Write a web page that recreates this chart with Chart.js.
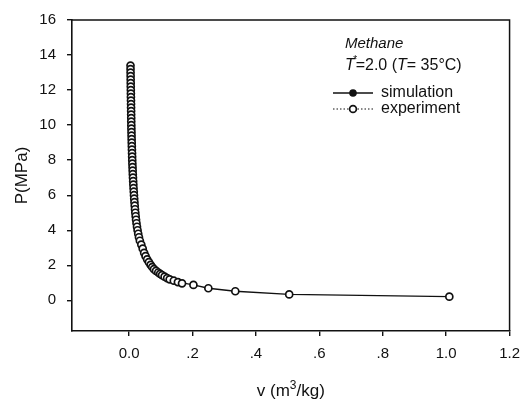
<!DOCTYPE html>
<html>
<head>
<meta charset="utf-8">
<script src="https://cdn.jsdelivr.net/npm/chart.js@4/dist/chart.umd.min.js"></script>
<style>
  html, body { margin: 0; padding: 0; background: #fff; }
  #wrap { width: 529px; height: 407px; position: relative; }
</style>
</head>
<body>
<div id="wrap"><canvas id="c" width="529" height="407"></canvas></div>
<script>
// Methane isotherm, T = 35 °C: pressure (MPa) against specific volume (m³/kg)
const expVolume = [
  0.0045, 0.0046, 0.0047, 0.0049, 0.0050, 0.0052, 0.0053, 0.0055, 0.0057, 0.0058,
  0.0060, 0.0062, 0.0063, 0.0065, 0.0066, 0.0068, 0.0069, 0.0071, 0.0073, 0.0076,
  0.0078, 0.0081, 0.0084, 0.0087, 0.0090, 0.0094, 0.0097, 0.0100, 0.0104, 0.0109,
  0.0113, 0.0118, 0.0123, 0.0129, 0.0135, 0.0141, 0.0148, 0.0155, 0.0162, 0.0170,
  0.0178, 0.0187, 0.0197, 0.0208, 0.0220, 0.0234, 0.0250, 0.0268, 0.0288, 0.0312,
  0.0340, 0.0385, 0.0430, 0.0475, 0.0520, 0.0570, 0.0625, 0.0680, 0.0730, 0.0785,
  0.0850, 0.0920, 0.0980, 0.1040, 0.1120, 0.1200, 0.1280, 0.1410, 0.1540, 0.1670,
  0.2030, 0.2500, 0.3350, 0.5050, 1.0100
];
const expPressure = [
  13.4, 13.2, 13.0, 12.8, 12.6, 12.4, 12.2, 12.0, 11.8, 11.6,
  11.4, 11.2, 11.0, 10.8, 10.6, 10.4, 10.2, 10.0, 9.8, 9.6,
  9.4, 9.2, 9.0, 8.8, 8.6, 8.4, 8.2, 8.0, 7.8, 7.6,
  7.4, 7.2, 7.0, 6.8, 6.6, 6.4, 6.2, 6.0, 5.8, 5.6,
  5.4, 5.2, 5.0, 4.8, 4.6, 4.4, 4.2, 4.0, 3.8, 3.6,
  3.4, 3.18, 2.95, 2.71, 2.52, 2.34, 2.18, 2.02, 1.90, 1.78,
  1.68, 1.59, 1.51, 1.44, 1.35, 1.27, 1.20, 1.12, 1.04, 0.97,
  0.88, 0.69, 0.52, 0.34, 0.21
];
const simVolume = [
  0.0045, 0.0055, 0.0071, 0.0100, 0.0141, 0.0197, 0.0268, 0.0340, 0.0430, 0.0520,
  0.0625, 0.0730, 0.0850, 0.0980, 0.1120, 0.1280, 0.1540, 0.2030, 0.2500, 0.3350,
  0.5050, 1.0100
];
const simPressure = [
  13.4, 12.0, 10.0, 8.0, 6.4, 5.0, 4.0, 3.4, 2.95, 2.52,
  2.18, 1.90, 1.68, 1.51, 1.35, 1.20, 1.04, 0.88, 0.69, 0.52,
  0.34, 0.21
];
const xTickValues = [0, 0.2, 0.4, 0.6, 0.8, 1.0, 1.2];
const xTickLabels = ['0.0', '.2', '.4', '.6', '.8', '1.0', '1.2'];
const yTickValues = [0, 2, 4, 6, 8, 10, 12, 14, 16];
const yTickLabels = ['0', '2', '4', '6', '8', '10', '12', '14', '16'];

const FONT = '"Liberation Sans", Arial, Helvetica, sans-serif';
const INK = '#111';

const toPoints = (xs, ys) => xs.map((x, i) => ({ x: x, y: ys[i] }));

// frame on the top/right sides, the x-axis title with its superscript,
// and the in-plot caption and key
const framePlugin = {
  id: 'frameAndKey',
  afterDatasetsDraw(chart) {
    const { ctx, chartArea: a } = chart;
    ctx.save();
    ctx.strokeStyle = INK;
    ctx.lineWidth = 1.5;
    ctx.beginPath();
    ctx.moveTo(a.left, a.top);
    ctx.lineTo(a.right, a.top);
    ctx.lineTo(a.right, a.bottom);
    ctx.stroke();

    ctx.fillStyle = INK;
    ctx.textBaseline = 'alphabetic';
    ctx.textAlign = 'left';

    // x-axis title: v (m^3/kg)
    {
      const parts = [
        { t: 'v (m', f: '17px ' + FONT, dy: 0 },
        { t: '3', f: '12px ' + FONT, dy: -7 },
        { t: '/kg)', f: '17px ' + FONT, dy: 0 }
      ];
      let w = 0;
      parts.forEach(p => { ctx.font = p.f; w += ctx.measureText(p.t).width; });
      let x = (a.left + a.right) / 2 - w / 2;
      const base = 396;
      parts.forEach(p => {
        ctx.font = p.f;
        ctx.fillText(p.t, x, base + p.dy);
        x += ctx.measureText(p.t).width;
      });
    }

    const x0 = 345;
    ctx.font = 'italic 15px ' + FONT;
    ctx.fillText('Methane', x0, 48);

    // T* = 2.0 (T = 35°C)
    let x = x0;
    const y2 = 70;
    ctx.font = 'italic 16px ' + FONT;
    ctx.fillText('T', x, y2);
    x += ctx.measureText('T').width - 1.5;
    ctx.font = '10px ' + FONT;
    ctx.fillText('*', x, y2 - 7);
    x += ctx.measureText('*').width - 1.5;
    ctx.font = '16px ' + FONT;
    ctx.fillText('=2.0 (', x, y2);
    x += ctx.measureText('=2.0 (').width;
    ctx.font = 'italic 16px ' + FONT;
    ctx.fillText('T', x, y2);
    x += ctx.measureText('T').width;
    ctx.font = '16px ' + FONT;
    ctx.fillText('= 35\u00B0C)', x, y2);

    // key
    const lx0 = 333, lx1 = 373, lxc = 353, tx = 381;
    const ys = 93, ye = 109;
    ctx.lineWidth = 1.5;
    ctx.beginPath();
    ctx.moveTo(lx0, ys);
    ctx.lineTo(lx1, ys);
    ctx.stroke();
    ctx.beginPath();
    ctx.arc(lxc, ys, 3.8, 0, Math.PI * 2);
    ctx.fill();

    ctx.lineWidth = 1;
    ctx.setLineDash([1.5, 2]);
    ctx.beginPath();
    ctx.moveTo(lx0, ye);
    ctx.lineTo(lx1, ye);
    ctx.stroke();
    ctx.setLineDash([]);
    ctx.fillStyle = '#fff';
    ctx.lineWidth = 1.7;
    ctx.beginPath();
    ctx.arc(lxc, ye, 3.4, 0, Math.PI * 2);
    ctx.fill();
    ctx.stroke();

    ctx.fillStyle = INK;
    ctx.font = '16px ' + FONT;
    ctx.textBaseline = 'middle';
    ctx.fillText('simulation', tx, ys);
    ctx.fillText('experiment', tx, ye);
    ctx.restore();
  }
};

new Chart(document.getElementById('c'), {
  type: 'scatter',
  data: {
    datasets: [
      {
        label: 'experiment',
        data: toPoints(expVolume, expPressure),
        showLine: false,
        pointRadius: 3.5,
        pointBorderWidth: 1.7,
        pointBorderColor: INK,
        pointBackgroundColor: '#fff'
      },
      {
        label: 'simulation',
        data: toPoints(simVolume, simPressure),
        showLine: true,
        borderColor: INK,
        borderWidth: 1.4,
        pointRadius: 0,
        tension: 0
      }
    ]
  },
  options: {
    responsive: false,
    animation: false,
    devicePixelRatio: 1,
    layout: { padding: { left: 0, right: 16, top: 15, bottom: 0 } },
    plugins: { legend: { display: false }, tooltip: { enabled: false } },
    scales: {
      x: {
        type: 'linear',
        min: -0.18,
        max: 1.2,
        afterFit(scale) { scale.height = 76; },
        afterBuildTicks(scale) { scale.ticks = xTickValues.map(v => ({ value: v })); },
        grid: { drawOnChartArea: false, drawTicks: true, tickLength: 5, color: INK, lineWidth: 1.4 },
        border: { display: true, color: INK, width: 1.6 },
        ticks: {
          padding: 9,
          color: INK,
          font: { family: FONT, size: 15 },
          maxRotation: 0,
          callback: (v, i) => xTickLabels[i]
        },
        title: { display: false }
      },
      y: {
        type: 'linear',
        min: -1.75,
        max: 16,
        afterFit(scale) { scale.width = 72; },
        afterBuildTicks(scale) { scale.ticks = yTickValues.map(v => ({ value: v })); },
        grid: { drawOnChartArea: false, drawTicks: true, tickLength: 5, color: INK, lineWidth: 1.4 },
        border: { display: true, color: INK, width: 1.6 },
        ticks: {
          padding: 11,
          color: INK,
          font: { family: FONT, size: 15 },
          callback: (v, i) => yTickLabels[i]
        },
        title: {
          display: true,
          text: 'P(MPa)',
          color: INK,
          font: { family: FONT, size: 17 },
          padding: { top: 12, bottom: 0 }
        }
      }
    }
  },
  plugins: [framePlugin]
});
</script>
</body>
</html>
